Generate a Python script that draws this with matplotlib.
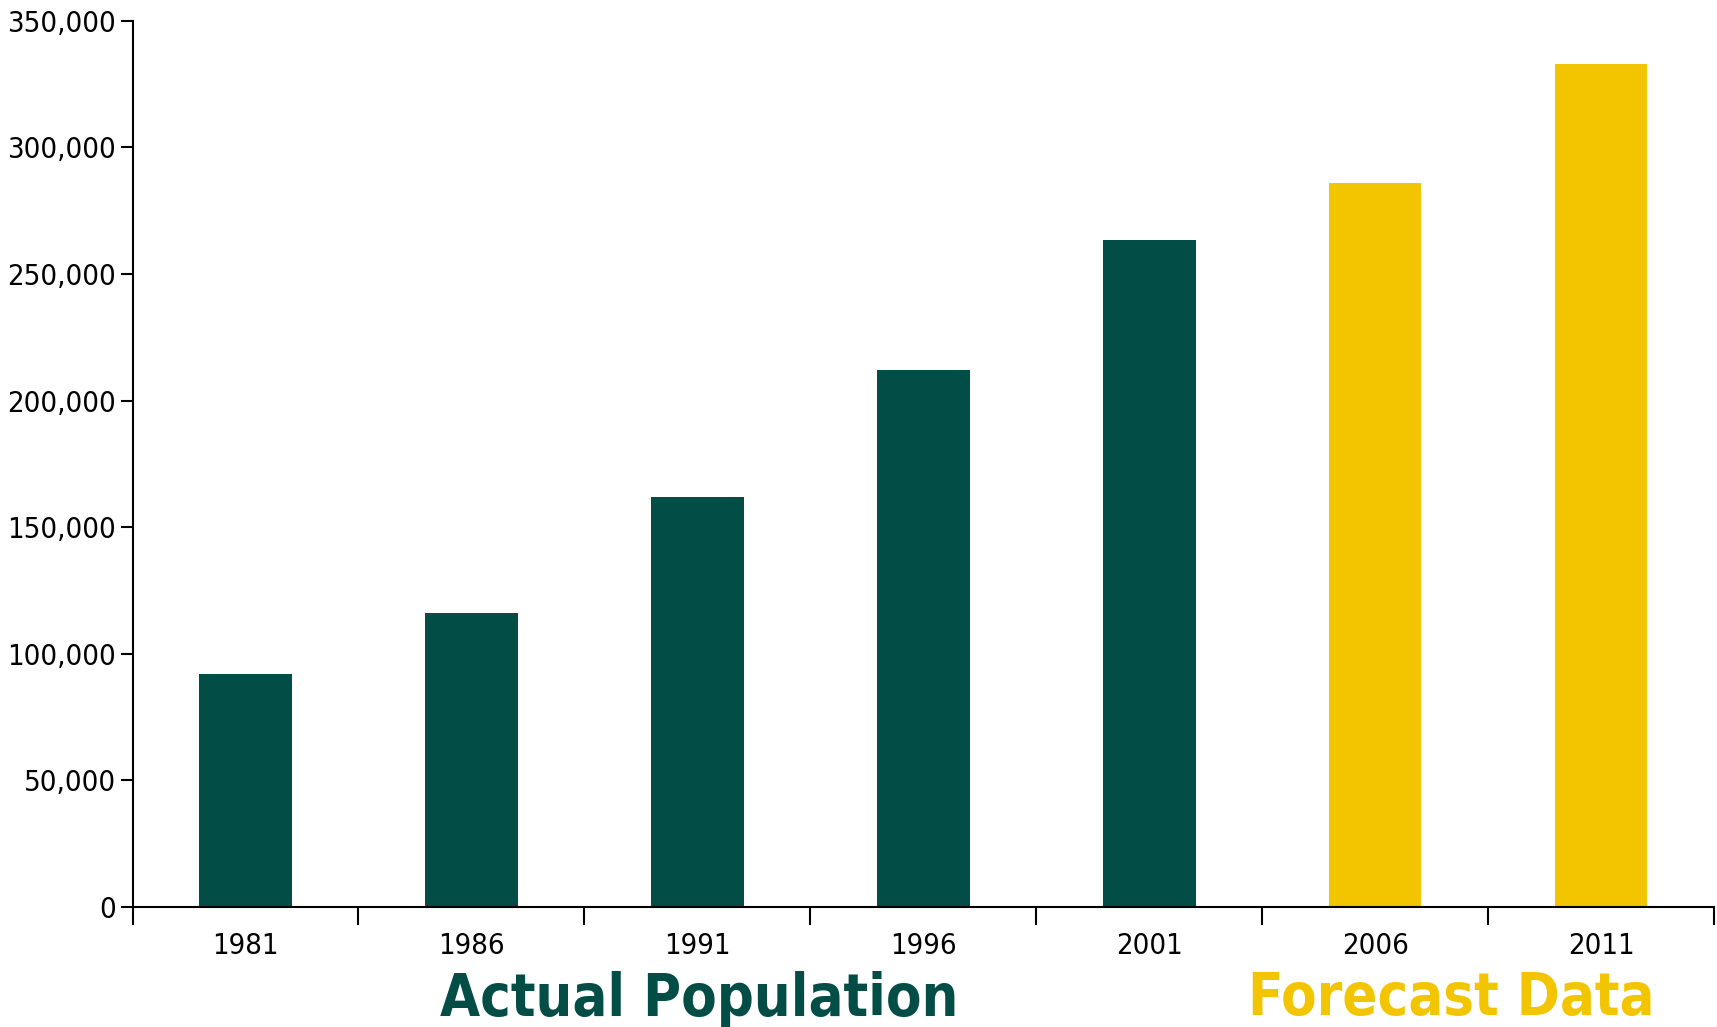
import matplotlib.pyplot as plt
from matplotlib.ticker import FuncFormatter, FixedLocator
import numpy as np

years = ['1981', '1986', '1991', '1996', '2001', '2006', '2011']
population = [92000, 116000, 162000, 212000, 263500, 286000, 333000]
is_forecast = [False, False, False, False, False, True, True]

GREEN = '#024D45'
YELLOW = '#F2C500'

plt.rcParams['font.family'] = ['DejaVu Sans']
plt.rcParams['font.stretch'] = 'condensed'

fig = plt.figure(figsize=(17.17, 10.27), dpi=100)
ax = fig.add_axes([0.0772, 0.1171, 0.9211, 0.8626])

x = np.arange(len(years))
colors = [YELLOW if f else GREEN for f in is_forecast]
ax.bar(x, population, width=0.41, color=colors)

ax.set_xlim(-0.5, len(years) - 0.5)
ax.set_ylim(0, 350000)

# category boundaries get the tick marks, labels sit in the middle
ax.xaxis.set_major_locator(FixedLocator(np.arange(-0.5, len(years), 1.0)))
ax.xaxis.set_minor_locator(FixedLocator(x))
ax.set_xticklabels([], minor=False)
ax.set_xticklabels(years, minor=True)
ax.tick_params(axis='x', which='major', length=13, width=1.5, direction='out')
ax.tick_params(axis='x', which='minor', length=0, pad=18, labelsize=21)

ax.set_yticks(np.arange(0, 350001, 50000))
ax.yaxis.set_major_formatter(FuncFormatter(lambda v, p: f'{int(v):,}'))
ax.tick_params(axis='y', length=9, width=1.5, labelsize=21, pad=3)

for side in ['top', 'right']:
    ax.spines[side].set_visible(False)
for side in ['left', 'bottom']:
    ax.spines[side].set_linewidth(1.5)

fig.text(699 / 1717, 1 - 999 / 1027, 'Actual Population', color=GREEN,
         fontsize=41.5, fontweight='bold', ha='center', va='center')
fig.text(1451 / 1717, 1 - 999 / 1027, 'Forecast Data', color=YELLOW,
         fontsize=41.5, fontweight='bold', ha='center', va='center')

fig.savefig('out.png', dpi=100)
